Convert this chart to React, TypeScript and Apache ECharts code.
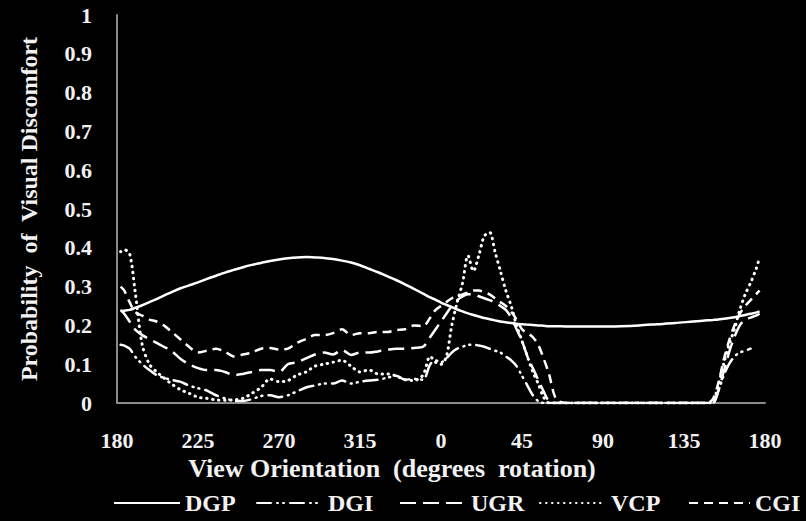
import React, { useEffect, useRef } from "react";
import * as echarts from "echarts";

// View orientation sample positions (degrees from the left edge, 0 = "180")
const angles = [
  2, 4, 7, 10, 14, 18, 22, 26, 30, 35, 40, 45, 50, 55, 60, 65, 70, 75, 80, 85,
  90, 95, 100, 105, 110, 115, 120, 125, 130, 135, 140, 145, 150, 155, 160, 165, 170,
  174, 177, 180, 183, 186, 189, 192, 195, 198, 201, 204, 207, 210, 213, 216, 219,
  222, 225, 228, 231, 234, 237, 240, 244, 250, 260, 270, 280, 290, 300, 310, 320,
  328, 331, 334, 337, 340, 343, 346, 349, 352, 355, 357,
];

const xTickLabels = ["180", "225", "270", "315", "0", "45", "90", "135", "180"];

const dgp = [
  0.237, 0.238, 0.24, 0.245, 0.252, 0.26, 0.268, 0.277, 0.285, 0.295, 0.303, 0.311, 0.32, 0.328, 0.336, 0.343, 0.35, 0.356, 0.361, 0.366,
  0.37, 0.373, 0.375, 0.376, 0.375, 0.374, 0.371, 0.367, 0.362, 0.355, 0.346, 0.337, 0.327, 0.317, 0.306, 0.294, 0.282,
  0.272, 0.266, 0.259, 0.253, 0.247, 0.241, 0.236, 0.231, 0.227, 0.223, 0.219, 0.216, 0.213, 0.21, 0.208, 0.206,
  0.204, 0.203, 0.202, 0.201, 0.2, 0.199, 0.198, 0.198, 0.197, 0.197, 0.197, 0.198, 0.2, 0.203, 0.206, 0.21,
  0.213, 0.214, 0.215, 0.217, 0.219, 0.221, 0.224, 0.227, 0.23, 0.233, 0.236,
];

const dgi = [
  0.15, 0.148, 0.14, 0.12, 0.1, 0.085, 0.072, 0.065, 0.06, 0.055, 0.045, 0.038, 0.032, 0.02, 0.012, 0.006, 0.005, 0.01, 0.018, 0.02,
  0.015, 0.02, 0.03, 0.04, 0.045, 0.05, 0.05, 0.058, 0.05, 0.055, 0.058, 0.06, 0.065, 0.07, 0.06, 0.062, 0.06,
  0.1, 0.11, 0.105, 0.115, 0.13, 0.14, 0.145, 0.15, 0.15, 0.148, 0.145, 0.14, 0.135, 0.13, 0.12, 0.11,
  0.095, 0.07, 0.045, 0.02, 0.005, 0, 0, 0, 0, 0, 0, 0, 0, 0, 0, 0,
  0, 0, 0.03, 0.07, 0.1, 0.12, 0.13, 0.135, 0.14, null, null,
];

const ugr = [
  0.24, 0.23, 0.21, 0.19, 0.175, 0.165, 0.155, 0.145, 0.135, 0.115, 0.1, 0.09, 0.085, 0.085, 0.08, 0.072, 0.075, 0.08, 0.085, 0.085,
  0.08, 0.1, 0.105, 0.115, 0.125, 0.13, 0.125, 0.137, 0.124, 0.13, 0.13, 0.133, 0.137, 0.14, 0.14, 0.142, 0.145,
  0.17, 0.19, 0.21, 0.23, 0.25, 0.265, 0.275, 0.28, 0.28, 0.275, 0.27, 0.265, 0.26, 0.25, 0.24, 0.22,
  0.19, 0.16, 0.12, 0.09, 0.06, 0.03, 0.005, 0, 0, 0, 0, 0, 0, 0, 0, 0,
  0, 0, 0.03, 0.08, 0.13, 0.17, 0.2, 0.215, 0.22, 0.225, 0.23,
];

const vcp = [
  0.39, 0.395, 0.385, 0.29, 0.15, 0.1, 0.08, 0.065, 0.05, 0.035, 0.025, 0.015, 0.012, 0.008, 0.007, 0.008, 0.012, 0.025, 0.04, 0.062,
  0.055, 0.058, 0.072, 0.08, 0.095, 0.1, 0.105, 0.11, 0.095, 0.08, 0.085, 0.075, 0.075, 0.07, 0.06, 0.058, 0.072,
  0.12, 0.105, 0.1, 0.12, 0.2, 0.26, 0.31, 0.38, 0.34, 0.38, 0.43, 0.44, 0.39, 0.34, 0.29, 0.25,
  0.2, 0.16, 0.12, 0.08, 0.05, 0.015, 0, 0, 0, 0, 0, 0, 0, 0, 0, 0,
  0, 0.003, 0.045, 0.1, 0.15, 0.19, 0.24, 0.28, 0.31, 0.345, 0.375,
];

const cgi = [
  0.3, 0.29, 0.26, 0.235, 0.225, 0.215, 0.21, 0.2, 0.185, 0.165, 0.145, 0.13, 0.135, 0.14, 0.132, 0.12, 0.125, 0.13, 0.14, 0.142,
  0.138, 0.14, 0.155, 0.165, 0.175, 0.175, 0.18, 0.19, 0.175, 0.18, 0.18, 0.183, 0.183, 0.188, 0.19, 0.2, 0.198,
  0.22, 0.24, 0.25, 0.26, 0.27, 0.275, 0.28, 0.285, 0.29, 0.29, 0.285, 0.28, 0.27, 0.26, 0.25, 0.235,
  0.215, 0.19, 0.18, 0.17, 0.15, 0.115, 0.075, 0.01, 0, 0, 0, 0, 0, 0, 0, 0,
  0, 0.01, 0.05, 0.11, 0.16, 0.2, 0.23, 0.25, 0.265, 0.28, 0.29,
];

const FONT = "'Liberation Serif', 'Times New Roman', serif";
const TEXT = "#f2f2f2";

const pairs = (vals: (number | null)[]) => angles.map((a, i) => [a, vals[i]]);

export default function App() {
  const ref = useRef<HTMLDivElement>(null);
  useEffect(() => {
    if (!ref.current) return;
    const chart = echarts.init(ref.current, null, { renderer: "svg" });
    const mk = (name: string, vals: (number | null)[], lineStyle: any) => ({
      name,
      type: "line",
      data: pairs(vals),
      symbol: "none",
      smooth: 0.3,
      connectNulls: false,
      lineStyle: { color: "#ffffff", width: 2.5, ...lineStyle },
      itemStyle: { color: "#ffffff" },
    });
    const legendBase = {
      top: 486,
      itemWidth: 66,
      itemHeight: 14,
      itemGap: 4,
      itemStyle: { opacity: 0 },
      textStyle: { color: TEXT, fontFamily: FONT, fontWeight: "bold", fontSize: 24 },
    };
    chart.setOption({
      animation: false,
      backgroundColor: "#000000",
      grid: { left: 117, right: 41, top: 15, bottom: 118, containLabel: false },
      legend: [
        { ...legendBase, data: ["DGP"], left: 108 },
        { ...legendBase, data: ["DGI"], left: 251 },
        { ...legendBase, data: ["UGR"], left: 394 },
        { ...legendBase, data: ["VCP"], left: 534 },
        { ...legendBase, data: ["CGI"], left: 683, itemWidth: 61 },
      ],
      xAxis: {
        type: "value",
        min: 0,
        max: 360,
        interval: 45,
        name: "View Orientation  (degrees  rotation)",
        nameLocation: "middle",
        nameGap: 51,
        nameTextStyle: {
          color: TEXT,
          fontFamily: FONT,
          fontWeight: "bold",
          fontSize: 26,
          padding: [0, 98, 0, 0],
          verticalAlign: "top",
        },
        axisLine: { lineStyle: { color: "#8a8a8a", width: 2 } },
        axisTick: { show: false },
        splitLine: { show: false },
        axisLabel: {
          color: TEXT,
          fontFamily: FONT,
          fontWeight: "bold",
          fontSize: 22,
          margin: 26,
          formatter: (v: number) => xTickLabels[Math.round(v / 45)],
        },
      },
      yAxis: {
        type: "value",
        min: 0,
        max: 1,
        interval: 0.1,
        name: "Probability  of  Visual Discomfort",
        nameLocation: "middle",
        nameGap: 76,
        nameTextStyle: { color: TEXT, fontFamily: FONT, fontWeight: "bold", fontSize: 24 },
        axisLine: { show: true, lineStyle: { color: "#8a8a8a", width: 2 } },
        axisTick: { show: false },
        splitLine: { show: false },
        axisLabel: {
          color: TEXT,
          fontFamily: FONT,
          fontWeight: "bold",
          fontSize: 22,
          margin: 25,
          formatter: (v: number) => (v === 0 ? "0" : v === 1 ? "1" : v.toFixed(1)),
        },
      },
      series: [
        mk("DGP", dgp, { type: "solid" }),
        mk("DGI", dgi, { type: [14, 6, 1, 5, 1, 6], cap: "round" }),
        mk("UGR", ugr, { type: [16, 7] }),
        mk("VCP", vcp, { type: [0.5, 5.5], cap: "round", width: 3 }),
        mk("CGI", cgi, { type: [9, 6] }),
      ],
    });
    return () => chart.dispose();
  }, []);
  return (
    <div
      ref={ref}
      style={{ position: "fixed", left: 0, top: 0, width: 806, height: 521, background: "#000" }}
    />
  );
}
